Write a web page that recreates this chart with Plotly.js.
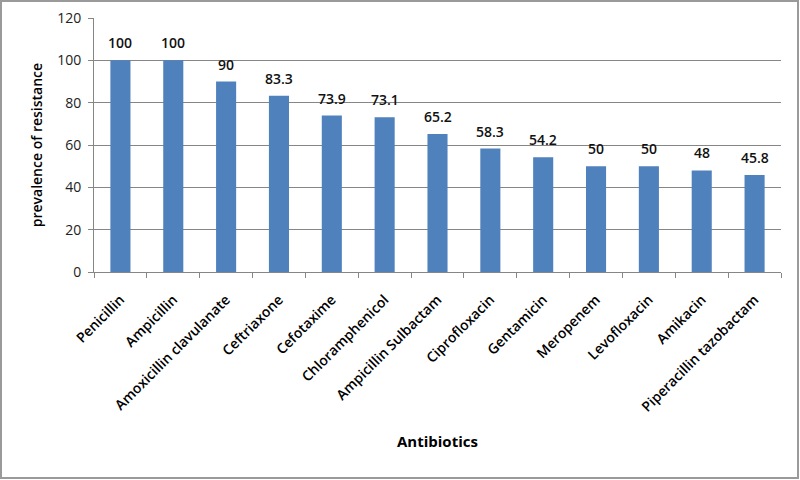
<!DOCTYPE html>
<html><head><meta charset="utf-8">
<script src="https://cdn.plot.ly/plotly-3.0.1.min.js"></script>
<style>
html,body{margin:0;padding:0;background:#fff;}
#wrap{position:relative;width:800px;height:480px;}
#chart{width:800px;height:480px;}
#frame{position:absolute;left:0;top:0;width:799px;height:479px;box-sizing:border-box;border:2px solid #9a9a9a;pointer-events:none;}
</style></head>
<body>
<div id="wrap"><div id="chart"></div><div id="frame"></div></div>
<script>
const categories = ["Penicillin","Ampicillin","Amoxicillin clavulanate","Ceftriaxone","Cefotaxime","Chloramphenicol","Ampicillin Sulbactam","Ciprofloxacin","Gentamicin","Meropenem","Levofloxacin","Amikacin","Piperacillin tazobactam"];
const resistance = [100,100,90,83.3,73.9,73.1,65.2,58.3,54.2,50,50,48,45.8];
const yTicks = [0,20,40,60,80,100,120];

const font = "'Open Sans', Lato, sans-serif";
const trace = {
  type: "bar",
  x: categories,
  y: resistance,
  marker: {color: "#4F81BD"},
  hoverinfo: "x+y"
};
const dataLabels = categories.map((c, i) => ({
  x: c, y: resistance[i], xref: "x", yref: "y",
  text: String(resistance[i]), showarrow: false,
  xanchor: "center", yanchor: "bottom", yshift: 6,
  font: {family: font, size: 14, color: "#111", weight: 600}
}));
const layout = {
  width: 800, height: 480,
  margin: {l: 94, r: 19, t: 18, b: 208},
  paper_bgcolor: "#fff", plot_bgcolor: "#fff",
  bargap: 0.62,
  showlegend: false,
  font: {family: font, color: "#000"},
  xaxis: {
    type: "category",
    tickangle: -45,
    ticks: "outside", tickson: "boundaries", ticklen: 5, tickcolor: "#868686",
    showline: true, linecolor: "#868686", linewidth: 1,
    ticklabelstandoff: 13,
    tickfont: {family: font, size: 14, color: "#000", weight: 600},
    automargin: false
  },
  yaxis: {
    range: [0, 120],
    tickvals: yTicks,
    ticks: "outside", ticklen: 5, tickcolor: "#868686",
    showline: true, linecolor: "#868686", linewidth: 1,
    showgrid: true, gridcolor: "#868686", gridwidth: 1,
    zeroline: false,
    ticklabelstandoff: 4,
    tickfont: {family: font, size: 14, color: "#222"},
    automargin: false
  },
  annotations: dataLabels.concat([
    {text: "Antibiotics", xref: "paper", yref: "paper", x: 0.5, y: -0.667, xanchor: "center", yanchor: "middle", showarrow: false,
     font: {family: font, size: 15, color: "#000", weight: "bold"}},
    {text: "prevalence of resistance", xref: "paper", yref: "paper", x: -0.084, y: 0.5, xanchor: "center", yanchor: "middle", textangle: -90, showarrow: false,
     font: {family: font, size: 14, color: "#000", weight: 600}}
  ])
};
Plotly.newPlot("chart", [trace], layout, {displayModeBar: false, staticPlot: true});
</script>
</body></html>
